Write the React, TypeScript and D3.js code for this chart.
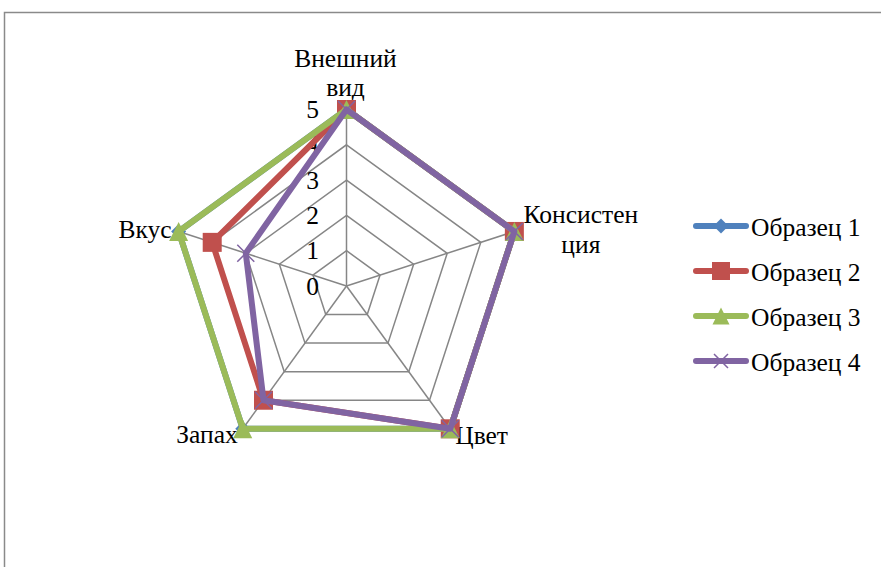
import { useEffect, useRef } from 'react';
import * as d3 from 'd3';

const categories = ['Внешний вид', 'Консистенция', 'Цвет', 'Запах', 'Вкус'];
const categoryLines = [['Внешний', 'вид'], ['Консистен', 'ция'], ['Цвет'], ['Запах'], ['Вкус']];
const ticks = [0, 1, 2, 3, 4, 5];

const seriesNames = ['Образец 1', 'Образец 2', 'Образец 3', 'Образец 4'];
const sample1 = [5, 5, 5, 5, 5];
const sample2 = [5, 5, 5, 4, 4];
const sample3 = [5, 5, 5, 5, 5];
const sample4 = [5, 5, 5, 4, 3];
const seriesColors = ['#4F81BD', '#C0504D', '#9BBB59', '#8064A2'];
const seriesMarkers = ['diamond', 'square', 'triangle', 'cross'];

const App = () => {
    const svgRef = useRef<SVGSVGElement>(null);

    useEffect(() => {
        const svg = d3.select(svgRef.current);
        const width = 881;
        const height = 567;
        const cx = 346.5;
        const cy = 286;
        const fontSize = 25.5;

        svg.selectAll('*').remove();
        svg.attr('width', width).attr('height', height)
            .attr('font-family', 'Liberation Serif')
            .attr('font-size', fontSize);

        svg.append('rect')
            .attr('x', 4.5).attr('y', 12.5)
            .attr('width', 1000).attr('height', 1000)
            .attr('fill', '#fff')
            .attr('stroke', '#8a8a8a')
            .attr('stroke-width', 1.5);

        const r = d3.scaleLinear().domain([0, 5]).range([0, 176.5]);
        const n = categories.length;
        const angle = (i: number) => (i * 2 * Math.PI) / n;
        const pt = (i: number, v: number): [number, number] => [
            cx + r(v) * Math.sin(angle(i)),
            cy - r(v) * Math.cos(angle(i)),
        ];

        const grid = svg.append('g');
        // rings
        ticks.filter(t => t > 0).forEach(t => {
            grid.append('path')
                .attr('d', d3.line()(categories.map((_, i) => pt(i, t))) + 'Z')
                .attr('fill', 'none')
                .attr('stroke', '#868686')
                .attr('stroke-width', 1.5);
        });
        // spokes
        categories.forEach((_, i) => {
            const [x, y] = pt(i, 5);
            grid.append('line')
                .attr('x1', cx).attr('y1', cy)
                .attr('x2', x).attr('y2', y)
                .attr('stroke', '#868686')
                .attr('stroke-width', 1.5);
        });

        // tick labels
        svg.append('g')
            .selectAll('text')
            .data(ticks)
            .join('text')
            .attr('x', cx - 34)
            .attr('y', d => cy - r(d) + 8.5)
            .attr('text-anchor', 'middle')
            .attr('font-family', 'Liberation Serif')
            .text(d => d);

        // category labels
        const labelPlace = [
            { dx: -1, dy: -43, anchor: 'middle', lh: 29 },
            { dx: 66.5, dy: -8.5, anchor: 'middle', lh: 30 },
            { dx: 5, dy: 15, anchor: 'start', lh: 30 },
            { dx: -5, dy: 14, anchor: 'end', lh: 30 },
            { dx: -7, dy: 7, anchor: 'end', lh: 30 },
        ];
        categoryLines.forEach((lines, i) => {
            const [vx, vy] = pt(i, 5);
            const p = labelPlace[i];
            const t = svg.append('text')
                .attr('font-family', 'Liberation Serif')
                .attr('text-anchor', p.anchor);
            lines.forEach((l, k) => {
                t.append('tspan')
                    .attr('x', vx + p.dx)
                    .attr('y', vy + p.dy + k * p.lh)
                    .text(l);
            });
        });

        const drawMarker = (g: any, kind: string, x: number, y: number, color: string, s: number) => {
            if (kind === 'diamond') {
                g.append('path')
                    .attr('d', `M${x},${y - s / 2}L${x + s / 2},${y}L${x},${y + s / 2}L${x - s / 2},${y}Z`)
                    .attr('fill', color);
            } else if (kind === 'square') {
                g.append('rect')
                    .attr('x', x - s / 2).attr('y', y - s / 2)
                    .attr('width', s).attr('height', s)
                    .attr('fill', color);
            } else if (kind === 'triangle') {
                g.append('path')
                    .attr('d', `M${x},${y - s / 2}L${x + s / 2},${y + s / 2}L${x - s / 2},${y + s / 2}Z`)
                    .attr('fill', color);
            } else {
                const h = s / 2;
                g.append('path')
                    .attr('d', `M${x - h},${y - h}L${x + h},${y + h}M${x - h},${y + h}L${x + h},${y - h}`)
                    .attr('stroke', color)
                    .attr('stroke-width', 1.5);
            }
        };

        const allSeries = [sample1, sample2, sample3, sample4];
        const markerSize = [15, 19, 19, 17];
        allSeries.forEach((vals, si) => {
            const g = svg.append('g');
            const pts = vals.map((v, i) => pt(i, v));
            g.append('path')
                .attr('d', d3.line()(pts) + 'Z')
                .attr('fill', 'none')
                .attr('stroke', seriesColors[si])
                .attr('stroke-width', 6)
                .attr('stroke-linejoin', 'round');
            pts.forEach(([x, y]) => drawMarker(g, seriesMarkers[si], x, y, seriesColors[si], markerSize[si]));
        });

        // legend
        const legend = svg.append('g');
        const legendY = d3.scalePoint().domain(seriesNames).range([226, 361]);
        const legendMarker = [15, 18, 17, 14];
        seriesNames.forEach((name, si) => {
            const y = legendY(name)!;
            legend.append('line')
                .attr('x1', 696).attr('x2', 746)
                .attr('y1', y).attr('y2', y)
                .attr('stroke', seriesColors[si])
                .attr('stroke-width', 6)
                .attr('stroke-linecap', 'round');
            drawMarker(legend, seriesMarkers[si], 721, y, seriesColors[si], legendMarker[si]);
            legend.append('text')
                .attr('x', 751).attr('y', y + 9.5)
                .attr('font-family', 'Liberation Serif')
                .text(name);
        });
    }, []);

    return (
        <div style={{ position: 'absolute', left: 0, top: 0 }}>
            <svg ref={svgRef} style={{ display: 'block' }}></svg>
        </div>
    );
};

export default App;
